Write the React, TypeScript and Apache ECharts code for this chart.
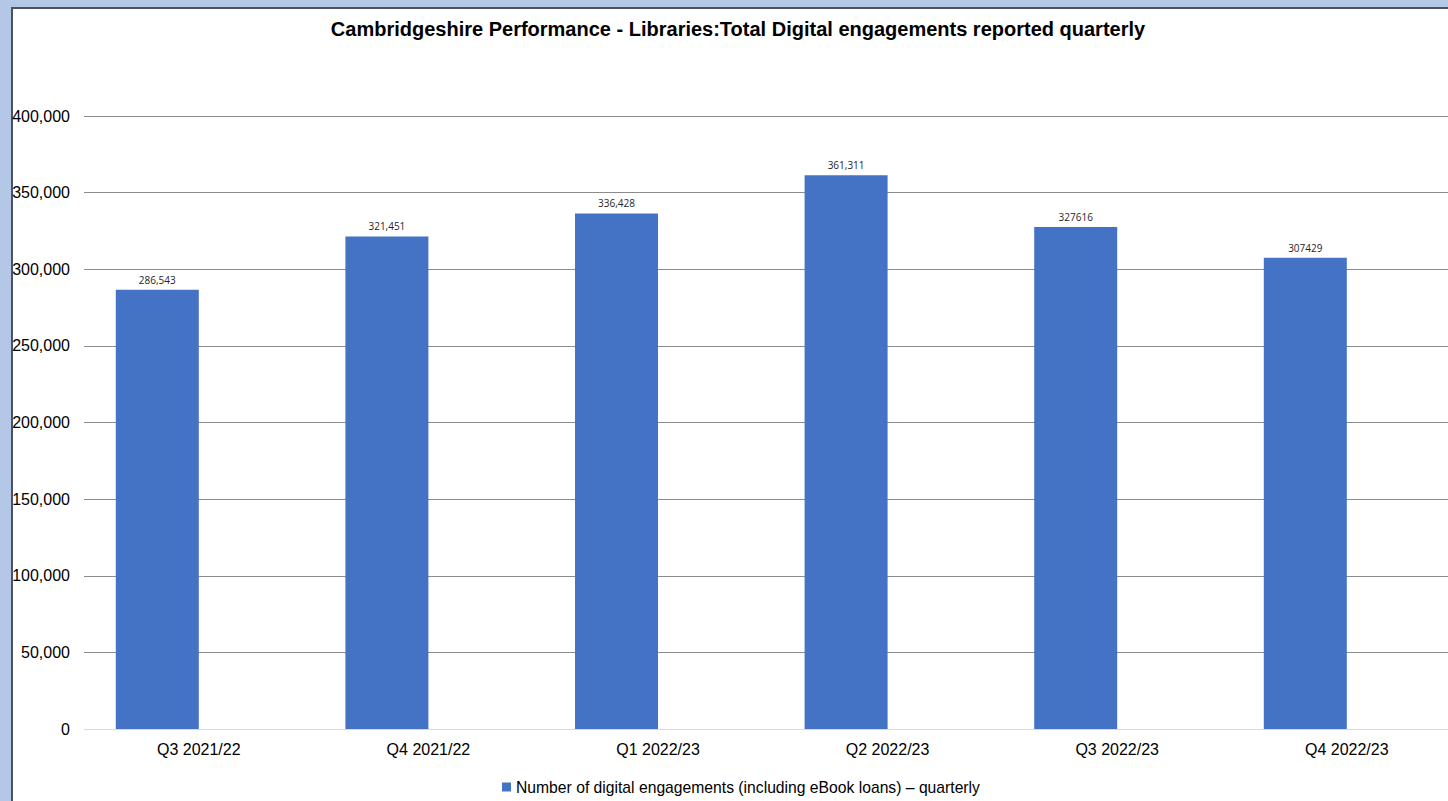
import React, { useEffect, useRef } from "react";
import * as echarts from "echarts";

const TITLE = "Cambridgeshire Performance - Libraries:Total Digital engagements reported quarterly";
const SERIES_NAME = "Number of digital engagements (including eBook loans) – quarterly";
const categories = ["Q3 2021/22", "Q4 2021/22", "Q1 2022/23", "Q2 2022/23", "Q3 2022/23", "Q4 2022/23"];
const values = [286543, 321451, 336428, 361311, 327616, 307429];
const valueLabels = ["286,543", "321,451", "336,428", "361,311", "327616", "307429"];
const spacerValues = [null, null, null, null, null, null];
const yMin = 0;
const yMax = 400000;
const yInterval = 50000;

const FONT = "'Liberation Sans', Arial, sans-serif";

function fmt(v: number): string {
  return String(v).replace(/\B(?=(\d{3})+(?!\d))/g, ",");
}

export default function App() {
  const ref = useRef<HTMLDivElement>(null);
  useEffect(() => {
    if (!ref.current) return;
    const chart = echarts.init(ref.current, undefined, { renderer: "svg" });
    chart.setOption({
      animation: false,
      backgroundColor: "#b4c7e7",
      graphic: [
        {
          type: "rect",
          z: -10,
          silent: true,
          shape: { x: 12, y: 8, width: 1520, height: 900 },
          style: { fill: "#ffffff", stroke: "#4d535e", lineWidth: 2 },
        },
        {
          type: "text",
          x: 738,
          y: 29,
          style: {
            text: TITLE,
            font: `bold 20px ${FONT}`,
            fill: "#000000",
            textAlign: "center",
            textVerticalAlign: "middle",
          },
        },
      ],
      legend: {
        data: [SERIES_NAME],
        left: 502,
        top: 779,
        padding: 0,
        itemWidth: 9,
        itemHeight: 9,
        icon: "rect",
        textStyle: { fontSize: 15.7, fontFamily: FONT, color: "#000000" },
      },
      grid: {
        left: 84,
        top: 116,
        width: 1377.6,
        bottom: 72,
        containLabel: false,
      },
      xAxis: {
        type: "category",
        data: categories,
        axisLine: { show: true, lineStyle: { color: "#d9d9d9", width: 1 } },
        axisTick: { show: false },
        axisLabel: { fontSize: 16, fontFamily: FONT, color: "#000000", margin: 12 },
      },
      yAxis: {
        type: "value",
        min: yMin,
        max: yMax,
        interval: yInterval,
        axisLine: { show: false },
        axisTick: { show: false },
        splitLine: { lineStyle: { color: "#8c8c8c", width: 1 } },
        axisLabel: {
          fontSize: 16,
          fontFamily: FONT,
          color: "#000000",
          margin: 14,
          formatter: (v: number) => fmt(v),
        },
      },
      series: [
        {
          name: SERIES_NAME,
          type: "bar",
          data: values,
          barWidth: 83,
          barGap: "0%",
          itemStyle: { color: "#4472c4" },
          label: {
            show: true,
            position: "top",
            distance: 5,
            fontSize: 10,
            fontFamily: "'Open Sans', 'Noto Sans', sans-serif",
            color: "#262626",
            formatter: (p: any) => valueLabels[p.dataIndex],
          },
        },
        {
          name: "spacer",
          type: "bar",
          data: spacerValues,
          barWidth: 83,
          barGap: "0%",
          itemStyle: { color: "#ed7d31" },
        },
      ],
    });
    return () => chart.dispose();
  }, []);
  return (
    <div style={{ position: "fixed", left: 0, top: 0, width: 1448, height: 801, overflow: "hidden" }}>
      <div ref={ref} style={{ width: 1480, height: 801 }} />
    </div>
  );
}
